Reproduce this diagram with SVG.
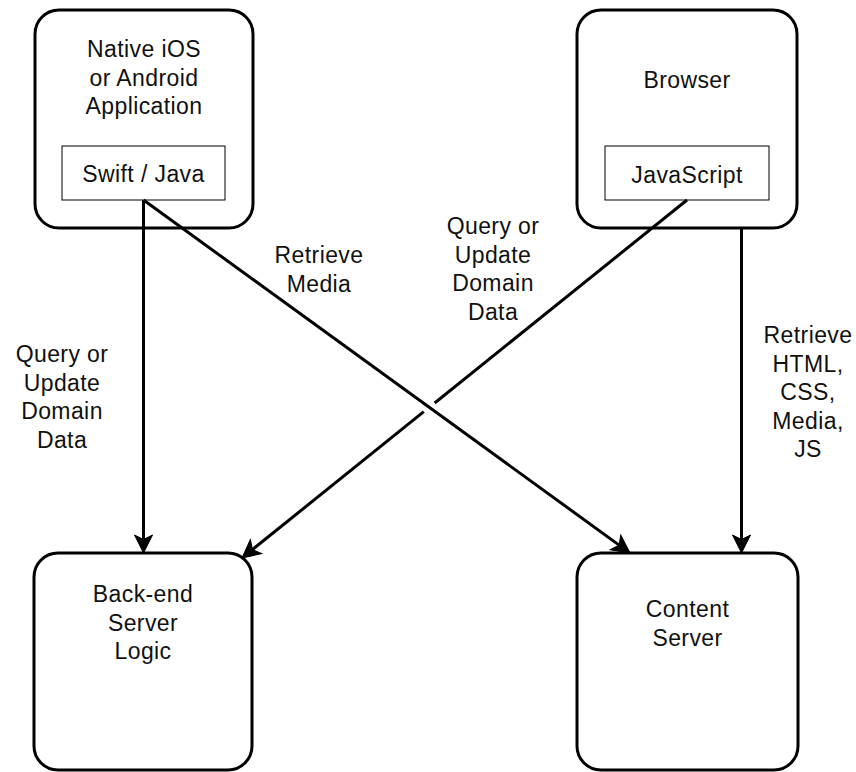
<svg xmlns="http://www.w3.org/2000/svg" width="856" height="772" viewBox="0 0 856 772">
<style>
.box{fill:#fff;stroke:#000;stroke-width:3}
.inner{fill:#fff;stroke:#000;stroke-width:1}
.t{font-family:"Liberation Sans",Arial,sans-serif;font-size:23px;letter-spacing:0.4px;fill:#111;text-anchor:middle}
.c{fill:none;stroke:#000;stroke-width:3}
</style>
<defs>
<marker id="arr" markerUnits="userSpaceOnUse" orient="auto" markerWidth="24" markerHeight="24" viewBox="-2 -12 24 24" refX="4.5" refY="0" overflow="visible">
<path d="M18,0 L0,-9 L4.5,0 L0,9 Z" fill="#000" stroke="#000" stroke-width="1" stroke-linejoin="miter"/>
</marker>
</defs>
<rect width="856" height="772" fill="#fff"/>
<g id="native">
<rect class="box" x="35" y="10" width="218" height="218" rx="24"/>
<text class="t" x="144" y="57">Native iOS</text>
<text class="t" x="144" y="85.5">or Android</text>
<text class="t" x="144" y="114">Application</text>
</g>
<g id="swift">
<rect class="inner" x="62" y="146" width="163" height="54"/>
<text class="t" x="143.5" y="182">Swift / Java</text>
</g>
<g id="browser">
<rect class="box" x="577" y="10" width="220" height="218" rx="24"/>
<text class="t" x="687" y="88">Browser</text>
</g>
<g id="javascript">
<rect class="inner" x="605" y="146" width="164" height="54"/>
<text class="t" x="687" y="183">JavaScript</text>
</g>
<g id="backend">
<rect class="box" x="34" y="553" width="218" height="217" rx="24"/>
<text class="t" x="143" y="602">Back-end</text>
<text class="t" x="143" y="630.5">Server</text>
<text class="t" x="143" y="659">Logic</text>
</g>
<g id="content">
<rect class="box" x="577" y="553" width="221" height="217" rx="24"/>
<text class="t" x="687.5" y="617">Content</text>
<text class="t" x="687.5" y="645.5">Server</text>
</g>
<g id="connectors">
<path class="c" d="M143.5,200 L143.5,539.5" marker-end="url(#arr)"/>
<path class="c" d="M143.5,200 L619.1,545.1" marker-end="url(#arr)"/>
<path class="c" d="M687,200 L434.7,403" />
<path class="c" d="M423.8,411.7 L252.5,549.5" marker-end="url(#arr)"/>
<path class="c" d="M741.5,228 L741.5,539.5" marker-end="url(#arr)"/>
<g id="labels">
<text class="t" x="62" y="362">Query or</text>
<text class="t" x="62" y="390.5">Update</text>
<text class="t" x="62" y="419">Domain</text>
<text class="t" x="62" y="447.5">Data</text>
<text class="t" x="319" y="263">Retrieve</text>
<text class="t" x="319" y="291.5">Media</text>
<text class="t" x="493" y="234">Query or</text>
<text class="t" x="493" y="262.5">Update</text>
<text class="t" x="493" y="291">Domain</text>
<text class="t" x="493" y="319.5">Data</text>
<text class="t" x="808" y="343">Retrieve</text>
<text class="t" x="808" y="371.5">HTML,</text>
<text class="t" x="808" y="400">CSS,</text>
<text class="t" x="808" y="428.5">Media,</text>
<text class="t" x="808" y="457">JS</text>
</g>
</g>
</svg>
